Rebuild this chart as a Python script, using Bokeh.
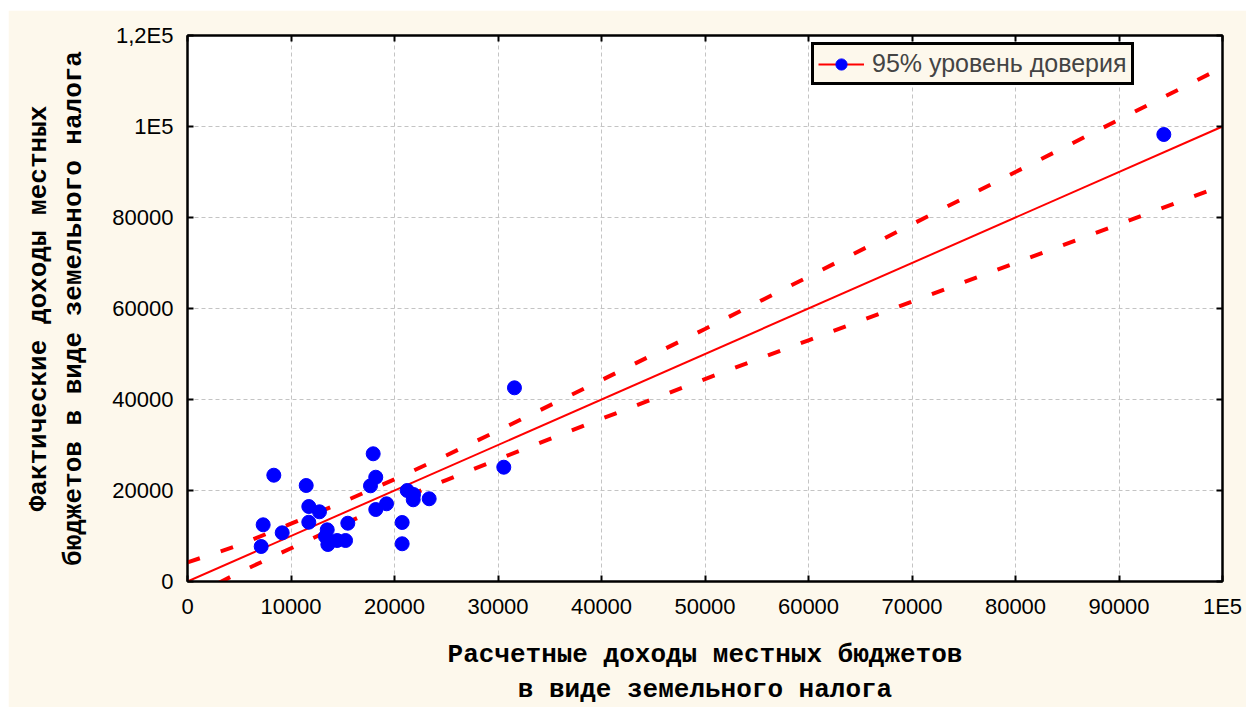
from bokeh.plotting import figure
from bokeh.models import FixedTicker, Legend, LegendItem, LinearAxis
from bokeh.embed import file_html
from bokeh.resources import INLINE

# ---- data ----
pred_x = [8340, 11470, 11720, 12750, 11720, 7310, 9150, 7120, 13500, 13330,
          13560, 14460, 15270, 15490, 17940, 18190, 17680, 19230, 18190, 21230,
          21840, 21810, 23350, 20740, 20740, 31590, 30560, 94330]
fact_y = [23360, 21100, 16480, 15320, 13030, 12460, 10700, 7690, 11360, 9890,
          8130, 9010, 9010, 12810, 28070, 22920, 21030, 17080, 15820, 20000,
          19120, 17960, 18180, 12970, 8290, 42570, 25120, 98240]

fit_x = [0, 100000]
fit_y = [0, 100000]

band_x = [0, 5000, 10000, 15000, 20000, 25000, 30000, 40000, 50000,
          60000, 70000, 80000, 90000, 100000]
band_upper = [4200, 8000, 12700, 17450, 22450, 27700, 33150, 44250, 55500,
              67000, 78500, 90000, 101500, 113000]
band_lower = [-3900, 2000, 7300, 12550, 17550, 22300, 26850, 35750, 44500,
              53000, 61500, 70000, 78500, 87000]

x_ticks = [0, 10000, 20000, 30000, 40000, 50000, 60000, 70000, 80000, 90000, 100000]
x_tick_labels = ["0", "10000", "20000", "30000", "40000", "50000", "60000",
                 "70000", "80000", "90000", "1E5"]
y_ticks = [0, 20000, 40000, 60000, 80000, 100000, 120000]
y_tick_labels = ["0", "20000", "40000", "60000", "80000", "1E5", "1,2E5"]

x_title = "Расчетные доходы местных бюджетов\nв виде земельного налога"
y_title = "Фактические доходы местных\nбюджетов в виде земельного налога"
legend_label = "95% уровень доверия"

CREAM = "#FDF8EC"
TITLE_FONT = "Liberation Mono"
TITLE_SIZE = "26px"

p = figure(width=1238, height=697, x_range=(0, 100000), y_range=(0, 120000),
           output_backend="svg", toolbar_location=None,
           margin=(10, 0, 0, 8),
           min_border_left=179, min_border_right=24, min_border_top=25,
           min_border_bottom=126, border_fill_color=CREAM,
           background_fill_color="white", outline_line_color="black",
           outline_line_width=2)

# grids
for g in (p.xgrid, p.ygrid):
    g.grid_line_color = "#c4c4c4"
    g.grid_line_dash = "4 3"
    g.grid_line_width = 1

p.xaxis.ticker = FixedTicker(ticks=x_ticks)
p.yaxis.ticker = FixedTicker(ticks=y_ticks)
p.xaxis.major_label_overrides = dict(zip(x_ticks, x_tick_labels))
p.yaxis.major_label_overrides = dict(zip(y_ticks, y_tick_labels))

for ax in (p.xaxis[0], p.yaxis[0]):
    ax.axis_line_color = "black"
    ax.axis_line_width = 2
    ax.major_tick_in = 6
    ax.major_tick_out = 0
    ax.major_tick_line_width = 2
    ax.minor_tick_line_color = None
    ax.major_label_text_font = "Liberation Sans"
    ax.major_label_text_font_size = "22px"
    ax.major_label_text_color = "black"
    ax.major_label_standoff = 14
    ax.axis_label_text_font = TITLE_FONT
    ax.axis_label_text_font_style = "bold"
    ax.axis_label_text_font_size = TITLE_SIZE
    ax.axis_label_text_color = "black"
    ax.axis_label_text_line_height = 1.17

p.xaxis.major_label_standoff = 12
p.xaxis.axis_label = x_title
p.yaxis.axis_label = y_title
p.xaxis.axis_label_standoff = 18
p.yaxis.axis_label_standoff = 20

# tick-only axes on top and right
top = LinearAxis(ticker=FixedTicker(ticks=x_ticks), major_label_text_font_size="0px",
                 major_label_standoff=0, major_tick_in=6, major_tick_out=0,
                 major_tick_line_width=2, minor_tick_line_color=None,
                 axis_line_width=2)
right = LinearAxis(ticker=FixedTicker(ticks=y_ticks), major_label_text_font_size="0px",
                   major_label_standoff=0, major_tick_in=6, major_tick_out=0,
                   major_tick_line_width=2, minor_tick_line_color=None,
                   axis_line_width=2)
p.add_layout(top, "above")
p.add_layout(right, "right")

# confidence bands
p.line(band_x, band_upper, line_color="red", line_width=4, line_dash="13 22")
p.line(band_x, band_lower, line_color="red", line_width=4, line_dash="13 22")

# fit line
fit = p.line(fit_x, fit_y, line_color="red", line_width=2)

# points
pts = p.scatter(pred_x, fact_y, size=14, fill_color="#0000FF", line_color="#0000FF")

legend = Legend(items=[LegendItem(label=legend_label, renderers=[fit, pts])],
                location=(624, 496), border_line_color="black", border_line_width=3,
                border_line_alpha=1,
                background_fill_color=CREAM, background_fill_alpha=1,
                label_text_font="Liberation Sans", label_text_font_size="25px",
                glyph_width=46, glyph_height=28, padding=4, spacing=0, margin=0,
                label_standoff=8)
p.add_layout(legend)

open("out.html", "w").write(file_html(p, INLINE))
